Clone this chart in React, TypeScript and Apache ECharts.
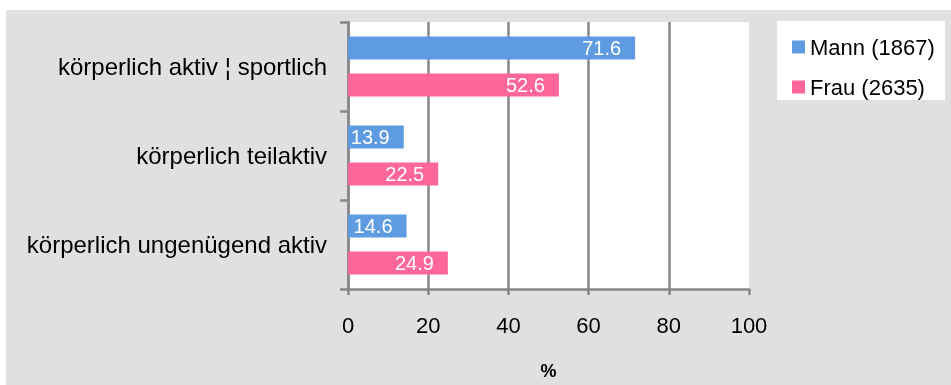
import React, { useEffect, useRef } from "react";
import * as echarts from "echarts";

const categories = [
  "körperlich aktiv ¦ sportlich",
  "körperlich teilaktiv",
  "körperlich ungenügend aktiv",
];
const seriesNames = ["Mann (1867)", "Frau (2635)"];
const mannValues = [71.6, 13.9, 14.6];
const frauValues = [52.6, 22.5, 24.9];
const xTicks = { min: 0, max: 100, interval: 20 };

const FONT = "'Liberation Sans', Arial, sans-serif";
const GRAY = "#878787";

export default function App() {
  const ref = useRef<HTMLDivElement>(null);
  useEffect(() => {
    if (!ref.current) return;
    const chart = echarts.init(ref.current, undefined, { renderer: "svg" });
    const labelOpt = {
      show: true,
      position: "insideRight",
      distance: 14,
      color: "#ffffff",
      fontSize: 20,
      fontFamily: FONT,
      formatter: (p: any) => p.value.toFixed(1),
    };
    chart.setOption({
      animation: false,
      textStyle: { fontFamily: FONT },
      graphic: [
        {
          type: "rect",
          z: -10,
          silent: true,
          shape: { x: 6, y: 10, width: 945, height: 375 },
          style: { fill: "#e0e0e0" },
        },
        {
          type: "rect",
          z: -5,
          silent: true,
          shape: { x: 777, y: 21, width: 168, height: 79 },
          style: { fill: "#ffffff" },
        },
      ],
      legend: {
        orient: "vertical",
        left: 787,
        top: 30,
        itemWidth: 13,
        itemHeight: 13,
        itemGap: 16,
        icon: "rect",
        textStyle: { fontSize: 22, color: "#000", fontFamily: FONT, lineHeight: 24 },
        data: seriesNames,
      },
      grid: {
        left: 348,
        right: 202,
        top: 22,
        bottom: 90,
        show: true,
        backgroundColor: "#ffffff",
        borderWidth: 0,
      },
      xAxis: {
        type: "value",
        min: xTicks.min,
        max: xTicks.max,
        interval: xTicks.interval,
        name: "%",
        nameLocation: "middle",
        nameGap: 73,
        nameTextStyle: { fontSize: 18, fontWeight: "bold", color: "#000", fontFamily: FONT },
        axisLine: { show: true, lineStyle: { color: GRAY, width: 2.5 } },
        axisTick: { show: true, length: 6, lineStyle: { color: GRAY, width: 2.5 } },
        axisLabel: { fontSize: 22, color: "#000", margin: 25, fontFamily: FONT },
        splitLine: {
          show: true,
          showMaxLine: false,
          lineStyle: { color: GRAY, width: 2.5 },
        },
      },
      yAxis: {
        type: "category",
        inverse: true,
        data: categories,
        axisLine: { show: true, lineStyle: { color: GRAY, width: 2.5 } },
        axisTick: { show: true, length: 8, lineStyle: { color: GRAY, width: 2.5 } },
        axisLabel: { fontSize: 24, color: "#000", margin: 21, fontFamily: FONT },
      },
      series: [
        {
          name: seriesNames[0],
          type: "bar",
          data: mannValues,
          barWidth: 23,
          barGap: "61%",
          itemStyle: { color: "#5f9be1" },
          label: labelOpt,
        },
        {
          name: seriesNames[1],
          type: "bar",
          data: frauValues,
          barWidth: 23,
          barGap: "61%",
          itemStyle: { color: "#ff6699" },
          label: labelOpt,
        },
      ],
    });
    return () => chart.dispose();
  }, []);
  return (
    <div
      ref={ref}
      style={{ position: "fixed", left: 0, top: 0, width: 951, height: 385 }}
    />
  );
}
